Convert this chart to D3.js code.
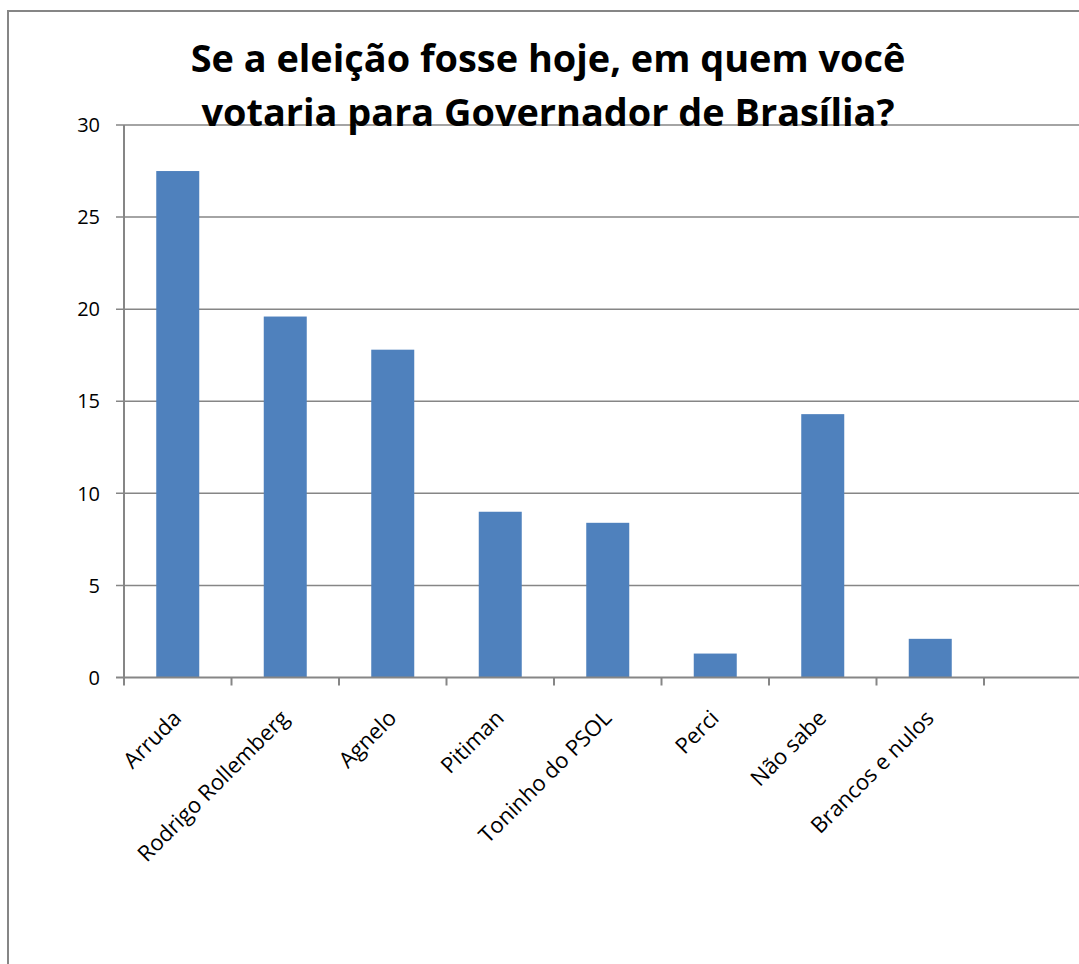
<!DOCTYPE html>
<html><head><meta charset="utf-8">
<script src="https://cdn.jsdelivr.net/npm/d3@7"></script>
<style>body{margin:0;background:#fff}svg{display:block}</style>
</head><body>
<script>
const categories = ["Arruda","Rodrigo Rollemberg","Agnelo","Pitiman","Toninho do PSOL","Perci","Não sabe","Brancos e nulos"];
const values = [27.5,19.6,17.8,9.0,8.4,1.3,14.3,2.1];
const yTicks = [0,5,10,15,20,25,30];
const titleLines = ["Se a eleição fosse hoje, em quem você","votaria para Governador de Brasília?"];

const W=1079,H=964;
const svg=d3.select("body").append("svg").attr("width",W).attr("height",H);
const TFONT="'Open Sans', Lato, sans-serif";
const LFONT="'Open Sans', sans-serif";
const grey="#868686";

// outer chart border
svg.append("rect").attr("x",8).attr("y",11).attr("width",W+20).attr("height",H+20)
  .attr("fill","none").attr("stroke",grey).attr("stroke-width",2);

const x=d3.scaleBand().domain([...categories,""]).range([124,124+9*107.5]).paddingInner(0).paddingOuter(0);
const y=d3.scaleLinear().domain([0,30]).range([677.5,125]);

// gridlines
svg.append("g").selectAll("line").data(yTicks.filter(d=>d>0)).join("line")
  .attr("x1",116).attr("x2",W).attr("y1",d=>y(d)).attr("y2",d=>y(d))
  .attr("stroke",grey).attr("stroke-width",1.5);
svg.append("line").attr("x1",116).attr("x2",124).attr("y1",y(0)).attr("y2",y(0)).attr("stroke",grey).attr("stroke-width",2);
svg.append("line").attr("x1",124).attr("x2",124).attr("y1",y(30)).attr("y2",y(0)+1).attr("stroke",grey).attr("stroke-width",2);

// y labels
svg.append("g").selectAll("text").data(yTicks).join("text")
  .attr("x",100).attr("y",d=>y(d)).attr("dy","0.36em").attr("text-anchor","end")
  .attr("font-family",LFONT).attr("font-size",20).attr("fill","#000").text(d=>d);

// bars
const bw=x.bandwidth()*0.4;
svg.append("g").selectAll("rect").data(values).join("rect")
  .attr("x",(d,i)=>x(categories[i])+x.bandwidth()/2-bw/2)
  .attr("width",bw)
  .attr("y",d=>y(d)).attr("height",d=>y(0)-y(d))
  .attr("fill","#4F81BD");

// x axis line & ticks
svg.append("line").attr("x1",123).attr("x2",W).attr("y1",y(0)).attr("y2",y(0)).attr("stroke",grey).attr("stroke-width",2);
const bounds=[...categories,""].map(c=>x(c));
svg.append("g").selectAll("line").data(bounds).join("line")
  .attr("x1",d=>d).attr("x2",d=>d).attr("y1",y(0)).attr("y2",y(0)+8)
  .attr("stroke",grey).attr("stroke-width",2);

// x labels
const xl=svg.append("g").selectAll("text").data(categories).join("text")
  .attr("transform",c=>`translate(${x(c)+x.bandwidth()/2+5},${y(0)+42}) rotate(-45)`)
  .attr("text-anchor","end").attr("font-family",LFONT).attr("font-size",19).attr("fill","#000").text(c=>c);
const rl=xl.filter(c=>c==="Rodrigo Rollemberg").node().getComputedTextLength();
xl.attr("font-size",19*203/rl);

// title
const t=svg.append("g").attr("font-family",TFONT).attr("font-weight","bold").attr("fill","#000");
const tl=t.selectAll("text").data(titleLines).join("text")
  .attr("x",548).attr("y",(d,i)=>72+i*54).attr("text-anchor","middle").attr("font-size",36).text(d=>d);
const w0=tl.node().getComputedTextLength();
tl.attr("font-size",36*715/w0);
</script>
</body></html>
